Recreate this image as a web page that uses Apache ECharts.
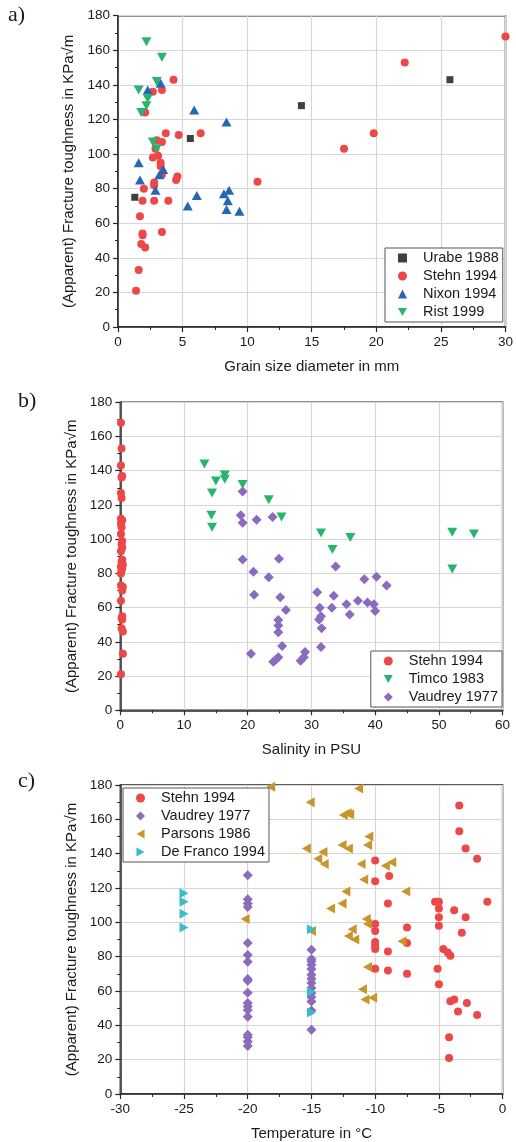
<!DOCTYPE html>
<html>
<head>
<meta charset="utf-8">
<script src="https://cdn.jsdelivr.net/npm/echarts@6/dist/echarts.min.js"></script>
<style>
  html, body { margin: 0; padding: 0; background: #ffffff; }
  #chart { width: 516px; height: 1142px; }
</style>
</head>
<body>
<div id="chart"></div>
<script>
// ---- a) toughness vs grain size diameter (mm, KPa√m) ----
const urabeGrain = [[1.3, 75], [5.6, 109], [14.2, 128], [25.7, 143]];
const stehnGrain = [
  [30, 168], [22.2, 153], [19.8, 112], [17.5, 103], [10.8, 84],
  [4.3, 143], [2.7, 136], [3.4, 137], [2.1, 124], [3.7, 112], [4.7, 111], [6.4, 112],
  [3.0, 108], [3.4, 107], [2.9, 103], [3.1, 99], [2.7, 98], [3.3, 95], [3.3, 93],
  [3.4, 88], [4.6, 87], [4.5, 85], [2.8, 83.5], [2.8, 82], [2.0, 80],
  [1.9, 73], [2.8, 73], [3.9, 73], [1.7, 64], [1.9, 54], [1.9, 53], [3.4, 55],
  [1.8, 48], [2.1, 46], [1.6, 33], [1.4, 21]
];
const nixonGrain = [
  [3.3, 141], [2.3, 137], [5.9, 125.5], [8.4, 118.6], [1.6, 95], [3.2, 88], [3.5, 91],
  [1.7, 85], [2.9, 79], [6.1, 76], [5.4, 70], [8.2, 77], [8.6, 79], [8.5, 73], [8.4, 68], [9.4, 67]
];
const ristGrain = [
  [2.2, 165], [3.4, 156], [3.0, 142], [1.6, 137], [2.3, 132], [2.2, 128], [1.8, 124], [2.7, 107], [3.0, 103]
];

// ---- b) toughness vs salinity (PSU) ----
const stehnSalinity = [
  [0.1, 168], [0.2, 153], [0.1, 143], [0.3, 137], [0.2, 136], [0.1, 127], [0.2, 124],
  [0.1, 112], [0.3, 111], [0.1, 109], [0.2, 107], [0.1, 103], [0.3, 99], [0.2, 97],
  [0.3, 95], [0.1, 93], [0.3, 88], [0.2, 87], [0.4, 85], [0.1, 84], [0.3, 83], [0.2, 82],
  [0.1, 80], [0.1, 73], [0.4, 72], [0.3, 70], [0.1, 64], [0.3, 55], [0.2, 54], [0.3, 53],
  [0.2, 48], [0.4, 46], [0.4, 33], [0.1, 21]
];
const timcoSalinity = [
  [13.2, 144], [14.4, 127], [15.0, 134], [16.4, 137.5], [16.4, 135], [14.3, 114], [14.4, 107],
  [19.2, 132], [23.3, 123], [25.3, 113], [31.5, 103.6], [36.1, 101], [33.3, 94],
  [52.1, 104], [55.5, 103], [52.1, 82.6]
];
const vaudreySalinity = [
  [19.2, 127.8], [18.9, 114], [19.2, 109.6], [21.4, 111.4], [23.9, 113], [19.2, 88.2], [24.9, 88.6],
  [20.9, 81], [23.3, 77.7], [21.0, 67.6], [25.1, 66], [26.0, 58.6], [24.8, 52.8], [24.8, 49.5],
  [24.8, 45.6], [25.4, 37.6], [20.5, 33.1], [24.0, 28.4], [24.8, 31], [24.4, 29.5],
  [29.0, 34], [28.3, 29], [28.8, 31], [30.9, 69], [31.3, 60], [31.5, 55], [31.6, 48],
  [31.2, 53], [31.5, 37], [33.8, 84], [33.5, 67], [33.2, 60], [35.5, 62], [36.0, 56],
  [37.3, 64], [38.3, 76.6], [38.8, 63], [40.2, 78], [39.8, 62], [40.0, 58], [41.8, 73]
];

// ---- c) toughness vs temperature (°C) ----
const stehnTemp = [
  [-3.4, 168], [-3.4, 153], [-2.9, 143], [-2.0, 137], [-10, 136], [-8.9, 127], [-10, 124],
  [-9, 111], [-5.3, 112], [-5.0, 112], [-1.2, 112], [-5, 108], [-3.8, 107], [-5, 103],
  [-2.9, 103], [-5, 98], [-10, 99], [-10, 95], [-7.5, 97], [-3.2, 94], [-10, 88.5],
  [-10, 86.5], [-10, 84.5], [-7.5, 88], [-9, 83], [-4.65, 84.5], [-4.3, 82.5], [-4.1, 80.5],
  [-10, 73], [-9, 72], [-7.5, 70], [-5.1, 73], [-5, 64], [-4.1, 54], [-3.8, 55],
  [-2.8, 53], [-3.5, 48], [-2, 46], [-4.2, 33], [-4.2, 21]
];
const vaudreyTemp = [
  [-20, 127.5], [-20, 113.5], [-20, 111], [-20, 109], [-20, 88], [-20, 81], [-20, 77],
  [-20, 67], [-20, 66], [-20, 59], [-20, 53], [-20, 51], [-20, 49], [-20, 45],
  [-20, 34.5], [-20, 33], [-20, 30.6], [-20, 28],
  [-15, 84], [-15, 78.6], [-15, 77.4], [-15, 75.3], [-15, 72.8], [-15, 69.4], [-15, 67.1],
  [-15, 64.6], [-15, 61.7], [-15, 58.8], [-15, 56.5], [-15, 53.9], [-15, 48.7], [-15, 37.4]
];
const parsonsTemp = [
  [-18.2, 179], [-20.2, 102], [-11.3, 178], [-15.1, 170], [-12.5, 162.5], [-12.2, 163.5],
  [-12.0, 163], [-10.5, 150], [-10.6, 145], [-15.4, 143], [-12.6, 145], [-12.1, 143],
  [-14.1, 141], [-14.5, 137], [-14.0, 134], [-11.1, 134], [-9.2, 133], [-8.7, 135],
  [-10.9, 125], [-12.3, 118], [-7.6, 118], [-12.6, 111], [-13.5, 108], [-10.7, 102],
  [-10.6, 99], [-11.8, 96], [-12.1, 92], [-11.6, 90], [-7.9, 89], [-15, 95],
  [-10.6, 74], [-11.0, 61], [-10.8, 55], [-10.2, 56]
];
const defrancoTemp = [[-25, 117], [-25, 112], [-25, 105], [-25, 97], [-15, 96], [-15, 59.5], [-15, 47.5]];

const yTitle = '(Apparent) Fracture toughness in KPa\u221Am';
const panelLetters = ['a)', 'b)', 'c)'];

const C = {
  urabe: '#404040', stehn: '#ee4747', nixon: '#2566b5', green: '#27b56e',
  vaudrey: '#8b6bbd', parsons: '#c8952a', defranco: '#36bfc9'
};
// legend glyphs for the rotated triangle markers
const ICON_DOWN = 'path://M0,0L10,0L5,9Z';
const ICON_LEFT = 'path://M9,0L9,10L0,5Z';
const ICON_RIGHT = 'path://M0,0L0,10L9,5Z';

const FONT = 'Liberation Sans, Arial, sans-serif';
const AXIS = '#262626';
const GRIDLINE = '#d6d6d6';

const grids = [
  { left: 118, top: 15.7, width: 387.7, height: 311.3 },
  { left: 120.3, top: 402.3, width: 382.3, height: 308 },
  { left: 120.3, top: 785, width: 382.3, height: 309.3 }
].map(g => Object.assign({ show: true, borderColor: AXIS, borderWidth: 1.5, backgroundColor: 'transparent' }, g));

function xAxisFor(i, min, max, interval, name, nameGap) {
  return {
    type: 'value', gridIndex: i, min: min, max: max, interval: interval,
    name: name, nameLocation: 'middle', nameGap: nameGap,
    nameTextStyle: { fontFamily: FONT, fontSize: 15, color: '#1a1a1a' },
    axisLine: { show: true, onZero: false, lineStyle: { color: AXIS, width: 1.5 } },
    axisTick: { show: true, length: 5, lineStyle: { color: AXIS, width: 1.2 } },
    minorTick: { show: true, splitNumber: 2, length: 3, lineStyle: { color: AXIS, width: 1 } },
    splitLine: { show: true, lineStyle: { color: GRIDLINE, width: 1.2 } },
    axisLabel: { fontFamily: FONT, fontSize: 13.5, color: '#1a1a1a', margin: 8 }
  };
}
function yAxisFor(i) {
  return {
    type: 'value', gridIndex: i, min: 0, max: 180, interval: 20,
    name: yTitle, nameLocation: 'middle', nameGap: 36,
    nameTextStyle: { fontFamily: FONT, fontSize: 15, color: '#1a1a1a' },
    axisLine: { show: true, onZero: false, lineStyle: { color: AXIS, width: 1.5 } },
    axisTick: { show: true, length: 5, lineStyle: { color: AXIS, width: 1.2 } },
    minorTick: { show: true, splitNumber: 2, length: 3, lineStyle: { color: AXIS, width: 1 } },
    splitLine: { show: true, lineStyle: { color: GRIDLINE, width: 1.2 } },
    axisLabel: { fontFamily: FONT, fontSize: 13.5, color: '#1a1a1a', margin: 8 }
  };
}

function sc(name, i, data, color, symbol, size, rotate) {
  return {
    type: 'scatter', name: name, xAxisIndex: i, yAxisIndex: i, data: data,
    symbol: symbol, symbolSize: size, symbolRotate: rotate || 0,
    itemStyle: { color: color, opacity: 1 }, clip: false,
    emphasis: { disabled: true }
  };
}

function legendFor(items, pos) {
  return Object.assign({
    data: items, orient: 'vertical', selectedMode: false,
    itemWidth: 9, itemHeight: 9, itemGap: 2,
    padding: [2, 4, 2, 13],
    borderColor: '#555555', borderWidth: 1, backgroundColor: '#ffffff',
    textStyle: { fontFamily: FONT, fontSize: 14.5, color: '#1a1a1a', lineHeight: 16, padding: [0, 0, 0, 11] }
  }, pos);
}

const option = {
  animation: false,
  backgroundColor: '#ffffff',
  grid: grids,
  xAxis: [
    xAxisFor(0, 0, 30, 5, 'Grain size diameter in mm', 32),
    xAxisFor(1, 0, 60, 10, 'Salinity in PSU', 32),
    xAxisFor(2, -30, 0, 5, 'Temperature in \u00B0C', 32)
  ],
  yAxis: [yAxisFor(0), yAxisFor(1), yAxisFor(2)],
  legend: [
    legendFor(['Urabe 1988', 'Stehn 1994', 'Nixon 1994', { name: 'Rist 1999', icon: ICON_DOWN }],
      { left: 385, top: 248 }),
    legendFor(['Stehn 1994', { name: 'Timco 1983', icon: ICON_DOWN }, 'Vaudrey 1977'],
      { right: 14, top: 651 }),
    legendFor(['Stehn 1994', 'Vaudrey 1977', { name: 'Parsons 1986', icon: ICON_LEFT },
      { name: 'De Franco 1994', icon: ICON_RIGHT }], { left: 123, top: 788 })
  ],
  graphic: panelLetters.map((t, k) => ({
    type: 'text', left: [8, 18, 18][k], top: [4, 390, 770][k],
    style: { text: t, font: '22px "Liberation Serif", "Times New Roman", serif', fill: '#1a1a1a' }
  })),
  series: [
    sc('Urabe 1988', 0, urabeGrain, C.urabe, 'rect', 7),
    sc('Stehn 1994', 0, stehnGrain, C.stehn, 'circle', 8),
    sc('Nixon 1994', 0, nixonGrain, C.nixon, 'triangle', [10, 9]),
    sc('Rist 1999', 0, ristGrain, C.green, 'triangle', [10, 9], 180),

    sc('Stehn 1994', 1, stehnSalinity, C.stehn, 'circle', 8),
    sc('Timco 1983', 1, timcoSalinity, C.green, 'triangle', [10, 9], 180),
    sc('Vaudrey 1977', 1, vaudreySalinity, C.vaudrey, 'diamond', [10, 10]),

    sc('Stehn 1994', 2, stehnTemp, C.stehn, 'circle', 8),
    sc('Vaudrey 1977', 2, vaudreyTemp, C.vaudrey, 'diamond', [10, 10]),
    sc('Parsons 1986', 2, parsonsTemp, C.parsons, 'triangle', [10, 9], 90),
    sc('De Franco 1994', 2, defrancoTemp, C.defranco, 'triangle', [10, 9], -90)
  ]
};

const chart = echarts.init(document.getElementById('chart'), null, { renderer: 'canvas' });
chart.setOption(option);
</script>
</body>
</html>
